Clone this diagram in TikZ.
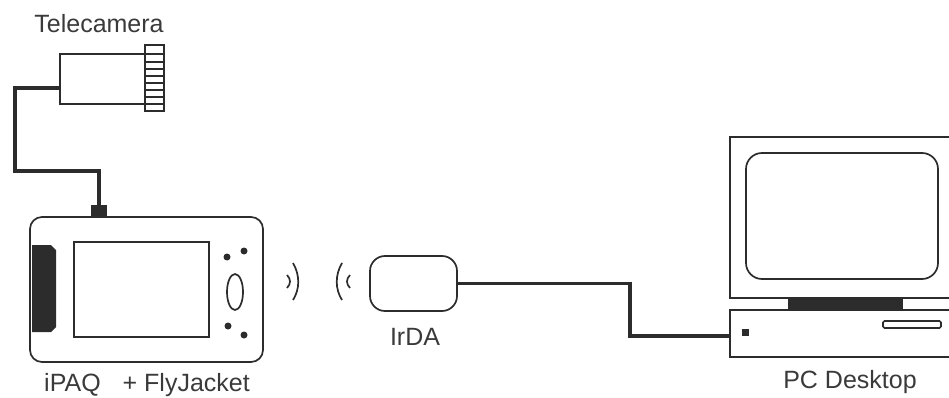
\documentclass[tikz,border=0pt]{standalone}
\usepackage{fontspec}
\setmainfont{Liberation Sans}
\usetikzlibrary{shapes.geometric}
\definecolor{ink}{HTML}{2C2C2C}
\definecolor{txt}{HTML}{3A3A3A}
\begin{document}
\begin{tikzpicture}[x=1pt,y=-1pt,
  box/.style={draw=ink, line width=1.7pt, inner sep=0pt, outer sep=0pt, rectangle},
  solidbox/.style={fill=ink, draw=none, inner sep=0pt, outer sep=0pt, rectangle},
  cable/.style={draw=ink, line width=3.4pt, line join=miter},
  thin/.style={draw=ink, line width=1.7pt},
  label/.style={text=txt, font=\fontsize{25}{28}\selectfont, inner sep=0pt},
  dot/.style={circle, fill=ink, inner sep=0pt, minimum size=7pt},
]
\useasboundingbox (0,0) rectangle (949,398);
\clip (0,0) rectangle (949,398);

% --- camera ---
\node[label] (camlabel) at (99,24) {Telecamera};
\node[box, minimum width=85pt, minimum height=50pt] (cam) at (102.5,79) {};
\node[box, minimum width=19pt, minimum height=66pt] (lens) at (154.5,78) {};
\foreach \yy in {54,62,69,76,83,90,97,104}
  \draw[thin] (lens.west |- 0,\yy) -- (lens.east |- 0,\yy);

% --- handheld ---
\node[box, rounded corners=12pt, minimum width=233pt, minimum height=145pt] (ipaq) at (146.5,289.5) {};
\node[solidbox, minimum width=16pt, minimum height=13pt] (conn) at (99,211.5) {};
\fill[ink] (32,245) -- (51,245) -- (56,250) -- (56,327) -- (51,332) -- (32,332) -- cycle;
\node[box, minimum width=135pt, minimum height=95pt] (screen) at (141.5,289.5) {};
\node[dot] (b1) at (227,257) {};
\node[dot] (b2) at (244,251) {};
\node[dot] (b3) at (228,326) {};
\node[dot] (b4) at (244,335) {};
\node[draw=ink, line width=1.7pt, ellipse, inner sep=0pt, minimum width=16pt, minimum height=36pt] (pad) at (235,292) {};
\node[label] (ipaqlabel) at (147,385) {iPAQ\hspace{0.6em} + FlyJacket};

% camera cable
\coordinate (camport) at ([yshift=16pt]cam.south west);
\draw[cable] (camport) -- (15,88) -- (15,171) -- (99,171) -- (conn.north);

% --- infrared waves ---
\draw[thin] (287,275) .. controls (291,279) and (291,284) .. (287,288);
\draw[thin] (293,263) .. controls (300,275) and (300,289) .. (293,300);
\draw[thin] (350,275) .. controls (346,279) and (346,284) .. (350,288);
\draw[thin] (342,263) .. controls (335,275) and (335,289) .. (342,300);

% --- IrDA adapter ---
\node[box, rounded corners=15pt, minimum width=87pt, minimum height=55pt] (irda) at (413.5,283.5) {};
\node[label] (irdalabel) at (415,337) {IrDA};

% --- desktop PC ---
\node[box, minimum width=225pt, minimum height=161pt] (monitor) at (842.5,217.5) {};
\node[box, rounded corners=16pt, minimum width=192pt, minimum height=126pt] (display) at (842,216) {};
\node[solidbox, minimum width=115pt, minimum height=12pt] (stand) at (845.5,304) {};
\node[box, minimum width=225pt, minimum height=47pt] (base) at (842.5,333.5) {};
\node[box, rounded corners=1.5pt, minimum width=58pt, minimum height=7pt] (slot) at (912,324.5) {};
\node[solidbox, minimum width=7pt, minimum height=7pt] (led) at (745.5,332) {};
\node[label] (pclabel) at (850,382) {PC Desktop};

% IrDA cable
\draw[cable] (irda.east) -- (630,283.5) -- (630,336) -- (base.west |- 0,336);
\end{tikzpicture}
\end{document}
